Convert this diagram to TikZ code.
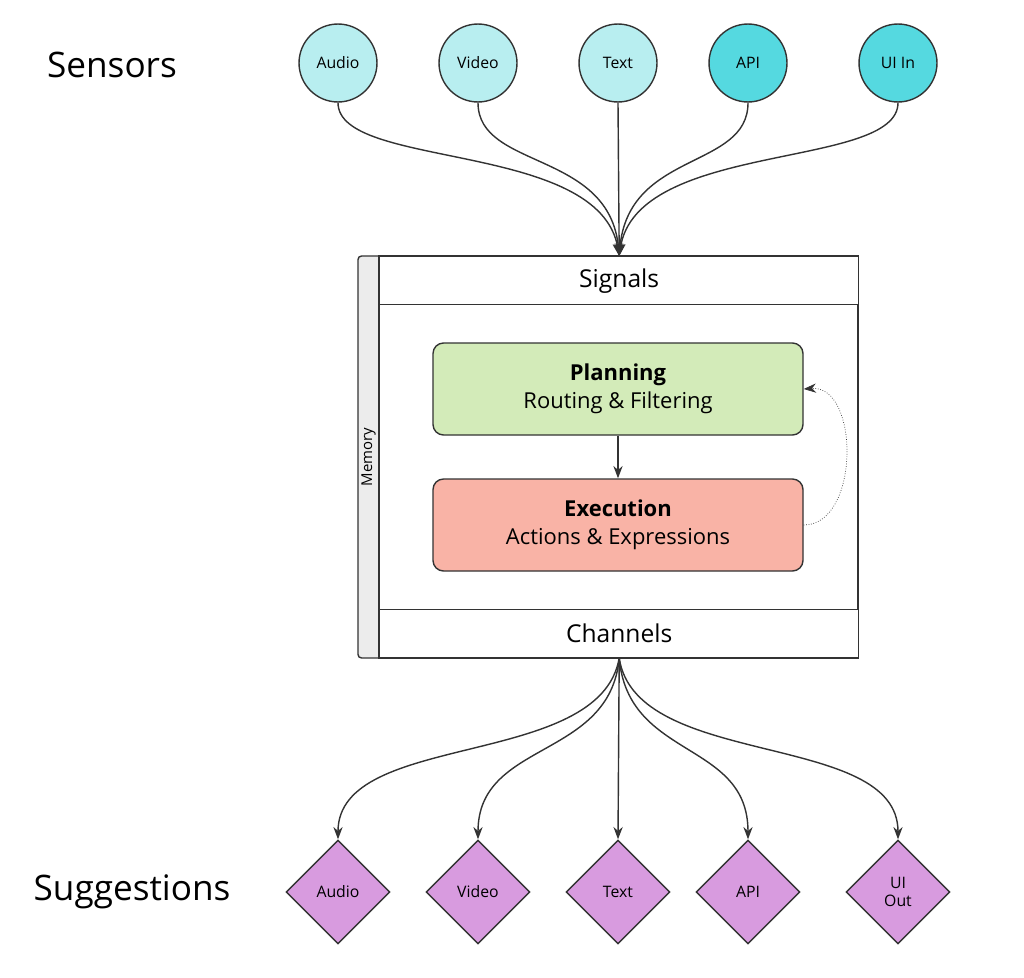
\documentclass[tikz,border=0pt]{standalone}
\usepackage{fontspec}
\setmainfont{Open Sans}
\usetikzlibrary{shapes.geometric,arrows.meta}
\definecolor{sensorlight}{HTML}{B8EEF0}
\definecolor{sensordark}{HTML}{55D9E0}
\definecolor{planfill}{HTML}{D3EBB9}
\definecolor{execfill}{HTML}{F9B3A6}
\definecolor{suggfill}{HTML}{D89BDF}
\definecolor{linegray}{HTML}{333333}
\tikzset{
  sensor/.style={circle, draw=linegray, thick, minimum size=39*0.04cm, inner sep=0pt, font=\fontsize{9}{10}\selectfont},
  sugg/.style={diamond, draw=linegray, thick, minimum size=104*0.02cm, inner sep=0pt, fill=suggfill, align=center, font=\fontsize{9}{10}\selectfont},
  stage/.style={rounded corners=6pt, draw=linegray, thick, minimum width=370*0.02cm, minimum height=92*0.02cm, align=center, font=\fontsize{12.5}{16}\selectfont},
  band/.style={draw=linegray, thick, fill=white, minimum width=479*0.02cm, minimum height=48*0.02cm, font=\fontsize{14}{16}\selectfont},
  flow/.style={-{Stealth[length=7pt]}, linegray, thick},
}
\begin{document}
\begin{tikzpicture}[x=0.02cm, y=-0.02cm]
  \useasboundingbox (0,0) rectangle (1024,977);

  % side labels
  \node (sensors) at (112,65) {\fontsize{20}{24}\selectfont Sensors};
  \node (suggestions) at (132,892) {\fontsize{20}{24}\selectfont Suggestions};

  % sensors
  \node[sensor, fill=sensorlight] (sa) at (338,63) {Audio};
  \node[sensor, fill=sensorlight] (sv) at (478,63) {Video};
  \node[sensor, fill=sensorlight] (st) at (618,63) {Text};
  \node[sensor, fill=sensordark] (sp) at (748,63) {API};
  \node[sensor, fill=sensordark] (su) at (898,63) {UI In};

  % core
  \draw[linegray, thick, fill=gray!15, rounded corners=2pt] (358,256) rectangle (385,658);
  \node[rotate=90, font=\fontsize{8.5}{10}\selectfont] (memory) at (368.5,457) {Memory};
  \draw[linegray, thick, fill=white] (379,256) rectangle (858,658);
  \node[band, anchor=north west] (signals) at (379,256) {Signals};
  \node[band, anchor=south west] (channels) at (379,658) {Channels};

  \node[stage, fill=planfill] (plan) at (618,389) {\textbf{Planning}\\Routing \& Filtering};
  \node[stage, fill=execfill] (exec) at (618,525) {\textbf{Execution}\\Actions \& Expressions};
  \draw[flow] (plan) -- (exec);
  \draw[-{Stealth[length=7pt]}, linegray, densely dotted] (exec.east) .. controls (860,525) and (860,385) .. (plan.east);

  % sensor inputs
  \draw[flow] (sa.south) .. controls (338,170) and (600,140) .. (signals.north);
  \draw[flow] (sv.south) .. controls (478,170) and (610,150) .. (signals.north);
  \draw[flow] (st.south) -- (signals.north);
  \draw[flow] (sp.south) .. controls (748,170) and (628,150) .. (signals.north);
  \draw[flow] (su.south) .. controls (898,170) and (636,140) .. (signals.north);

  % suggestions
  \node[sugg] (da) at (338,892) {Audio};
  \node[sugg] (dv) at (478,892) {Video};
  \node[sugg] (dt) at (618,892) {Text};
  \node[sugg] (dp) at (748,892) {API};
  \node[sugg] (du) at (898,892) {UI\\Out};

  \draw[flow] (channels.south) .. controls (600,770) and (338,730) .. (da.north);
  \draw[flow] (channels.south) .. controls (610,760) and (478,740) .. (dv.north);
  \draw[flow] (channels.south) -- (dt.north);
  \draw[flow] (channels.south) .. controls (628,760) and (748,740) .. (dp.north);
  \draw[flow] (channels.south) .. controls (636,770) and (898,730) .. (du.north);
\end{tikzpicture}
\end{document}
